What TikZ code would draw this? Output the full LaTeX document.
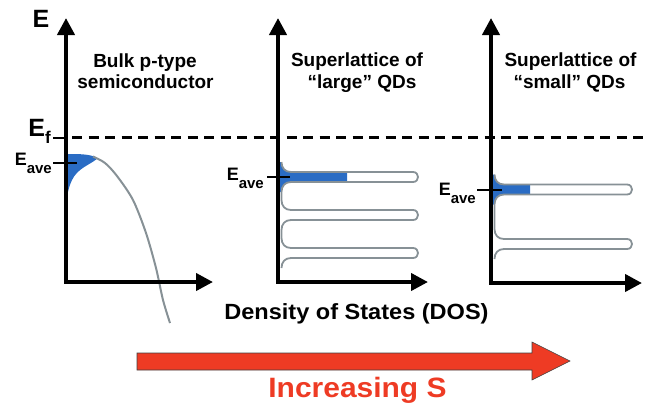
\documentclass[tikz,border=0pt]{standalone}
\usepackage{fontspec}
\setmainfont{Liberation Sans}
\usetikzlibrary{arrows.meta}
\definecolor{dosblue}{RGB}{42,108,196}
\definecolor{dosgray}{RGB}{135,145,150}
\definecolor{arrowred}{RGB}{238,59,36}
\newcommand{\fsz}[1]{\fontsize{#1}{#1}\selectfont}
\newcommand{\Eave}{E\raisebox{-8pt}{\fsz{15}ave}}
\begin{document}
\begin{tikzpicture}[x=1pt,y=-1pt,
  axis/.style={line width=4pt, line join=miter,
    {Triangle[length=17pt,width=17pt]}-{Triangle[length=17pt,width=17pt]}},
  tickmark/.style={line width=2pt},
  dosline/.style={draw=dosgray, line width=1.8pt, line join=round},
  fermi/.style={line width=2.4pt, dash pattern=on 10pt off 6.5pt},
  title/.style={font=\bfseries\fsz{19}, anchor=base, inner sep=0pt},
  elabel/.style={font=\bfseries\fsz{18}, anchor=base east, inner sep=0pt},
]
\useasboundingbox (0,0) rectangle (653,410);

% ---- panel 1: bulk semiconductor ----
\fill[dosblue] (64,154) -- (66,154) .. controls (80,154) and (92,154) .. (97.5,158.5)
  .. controls (88,166) and (78,168) .. (72,180)
  .. controls (69,186) and (68,192) .. (66,200) -- (64,200) -- cycle;
\draw[dosgray, line width=2pt] plot[smooth] coordinates
  {(93,156.5) (105,163) (117,176) (133,200) (146,233) (156,268) (163,300) (170,323)};
\draw[axis] (66,18) -- (66,282) -- (213,282);

% ---- panel 2: large quantum dots ----
\fill[dosblue] (277,162) -- (281.5,162) .. controls (281.5,168) and (285,172) .. (291,172)
  -- (347,172) -- (347,182) -- (291,182)
  .. controls (285,182) and (281.5,186) .. (281.5,192) -- (277,192) -- cycle;
\draw[dosline] (281.5,162) .. controls (281.5,168) and (285,172) .. (291,172)
  -- (413,172) .. controls (419.7,172) and (419.7,182) .. (413,182)
  -- (291,182) .. controls (285,182) and (281.5,186) .. (281.5,192)
  -- (281.5,200) .. controls (281.5,206) and (285,210) .. (291,210)
  -- (413,210) .. controls (419.7,210) and (419.7,220) .. (413,220)
  -- (291,220) .. controls (285,220) and (281.5,224) .. (281.5,230)
  -- (281.5,238) .. controls (281.5,244) and (285,248) .. (291,248)
  -- (413,248) .. controls (419.7,248) and (419.7,258) .. (413,258)
  -- (291,258) .. controls (285,258) and (281.5,262) .. (281.5,268);
\draw[axis] (278,18) -- (278,282) -- (428,282);

% ---- panel 3: small quantum dots ----
\fill[dosblue] (490,174.5) -- (494.5,174.5) .. controls (494.5,180.5) and (498,184.5) .. (504,184.5)
  -- (530,184.5) -- (530,194.5) -- (504,194.5)
  .. controls (498,194.5) and (494.5,198.5) .. (494.5,204.5) -- (490,204.5) -- cycle;
\draw[dosline] (494.5,174.5) .. controls (494.5,180.5) and (498,184.5) .. (504,184.5)
  -- (627,184.5) .. controls (633.7,184.5) and (633.7,194.5) .. (627,194.5)
  -- (504,194.5) .. controls (498,194.5) and (494.5,198.5) .. (494.5,204.5)
  -- (494.5,229) .. controls (494.5,235) and (498,239) .. (504,239)
  -- (627,239) .. controls (633.7,239) and (633.7,249) .. (627,249)
  -- (504,249) .. controls (498,249) and (494.5,253) .. (494.5,259);
\draw[axis] (491,18) -- (491,283) -- (642,283);

% ---- Fermi level ----
\draw[tickmark] (53,138) -- (66,138);
\draw[fermi] (72,137.5) -- (646,137.5);

% ---- average energy ticks ----
\draw[tickmark] (53,163) -- (77,163);
\draw[tickmark] (267,176.5) -- (290,176.5);
\draw[tickmark] (477,190) -- (502,190);

% ---- labels ----
\node[font=\bfseries\fsz{25}, anchor=base, inner sep=0pt] (eaxis) at (41,27) {E};
\node[font=\bfseries\fsz{25}, anchor=base east, inner sep=0pt] (ef) at (51,136)
  {E\raisebox{-7pt}{\fsz{17}f}};
\node[elabel] (eave1) at (52,165) {\Eave};
\node[elabel] (eave2) at (264,180) {\Eave};
\node[elabel] (eave3) at (476,195) {\Eave};

\node[title] (t1a) at (145,67) {Bulk p-type};
\node[title] (t1b) at (145.5,88.5) {semiconductor};
\node[title] (t2a) at (357,66.5) {Superlattice of};
\node[title] (t2b) at (362,88) {“large” QDs};
\node[title] (t3a) at (570.5,66.5) {Superlattice of};
\node[title] (t3b) at (569.5,88) {“small” QDs};

\node[font=\bfseries\fsz{22}, anchor=base, inner sep=0pt] (dos) at (356.5,319)
  {\scalebox{1.07}[1]{Density of States (DOS)}};

% ---- trend arrow ----
\draw[fill=arrowred, draw=black!75, line width=0.6pt]
  (137,353) -- (532,353) -- (532,342) -- (570,361) -- (532,380) -- (532,370) -- (137,370) -- cycle;
\node[font=\bfseries\fsz{28}, text=arrowred, anchor=base, inner sep=0pt] (incs) at (357.5,397)
  {\scalebox{1.07}[1]{Increasing S}};
\end{tikzpicture}
\end{document}
